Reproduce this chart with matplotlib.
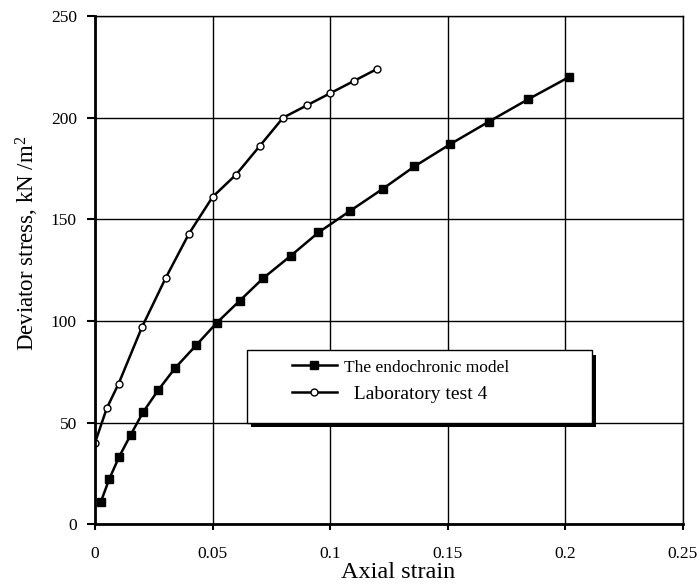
import matplotlib.pyplot as plt
from matplotlib.patches import Rectangle

# laboratory test 4
lab_strain = [0, 0.005, 0.01, 0.02, 0.03, 0.04, 0.05, 0.06, 0.07, 0.08, 0.09, 0.1, 0.11, 0.12]
lab_stress = [40, 57, 69, 97, 121, 143, 161, 172, 186, 200, 206, 212, 218, 224]

# endochronic model
model_strain = [0.0025, 0.006, 0.0102, 0.0152, 0.0204, 0.0269, 0.0342, 0.043, 0.0517, 0.0616,
                0.0715, 0.0832, 0.095, 0.1083, 0.1224, 0.1358, 0.1511, 0.1674, 0.1841, 0.2016]
model_stress = [11, 22, 33, 44, 55, 66, 77, 88, 99, 110,
                121, 132, 143.5, 154, 165, 176, 187, 198, 209, 220]

xticks = [0, 0.05, 0.1, 0.15, 0.2, 0.25]
xticklabels = ["0", "0.05", "0.1", "0.15", "0.2", "0.25"]
yticks = [0, 50, 100, 150, 200, 250]

plt.rcParams['font.family'] = ['Liberation Serif', 'DejaVu Serif']
plt.rcParams['mathtext.fontset'] = 'custom'
plt.rcParams['mathtext.rm'] = 'Liberation Serif'
plt.rcParams['mathtext.it'] = 'Liberation Serif:italic'

fig = plt.figure(figsize=(7, 5.85), dpi=100)
ax = fig.add_axes([0.1357, 0.104, 0.84, 0.8686])

ax.plot(model_strain, model_stress, color='black', lw=1.8, marker='s', ms=5.5,
        mfc='black', mec='black', label='The endochronic model')
ax.plot(lab_strain, lab_stress, color='black', lw=1.8, marker='o', ms=5,
        mfc='white', mec='black', mew=1, label='  Laboratory test 4')

ax.set_xlim(0, 0.25)
ax.set_ylim(0, 250)
ax.set_xticks(xticks)
ax.set_xticklabels(xticklabels)
ax.set_yticks(yticks)
ax.tick_params(labelsize=12.5, direction='out', width=1.5)
ax.tick_params(axis='x', length=4, pad=12)
ax.tick_params(axis='y', length=6, pad=7)
ax.grid(True, color='black', lw=1)
ax.set_axisbelow(True)
for s in ['top', 'right']:
    ax.spines[s].set_linewidth(1)
for s in ['left', 'bottom']:
    ax.spines[s].set_linewidth(2)

ax.set_xlabel('Axial strain', fontsize=17.5)
ax.xaxis.set_label_coords(0.515, -0.075)
ax.set_ylabel(r'Deviator stress, kN /m$^{2}$', fontsize=16.5)
ax.yaxis.set_label_coords(-0.091, 0.553)

# legend box with a hard black shadow
bx, by, bw, bh = 0.2585, 0.2, 0.5865, 0.1425
ax.add_patch(Rectangle((bx + 0.0075, by - 0.009), bw, bh, transform=ax.transAxes,
                       facecolor='black', edgecolor='none', zorder=4))
ax.add_patch(Rectangle((bx, by), bw, bh, transform=ax.transAxes,
                       facecolor='white', edgecolor='black', lw=1, zorder=4.5))

leg = ax.legend(loc='center left', bbox_to_anchor=(0.335, 0.2825), frameon=False,
                borderpad=0, borderaxespad=0, labelspacing=0.5, handlelength=2.3,
                handletextpad=0.4, fontsize=14)
leg.set_zorder(5)
leg.get_texts()[0].set_fontsize(12.5)

fig.savefig('out.png', dpi=100)
